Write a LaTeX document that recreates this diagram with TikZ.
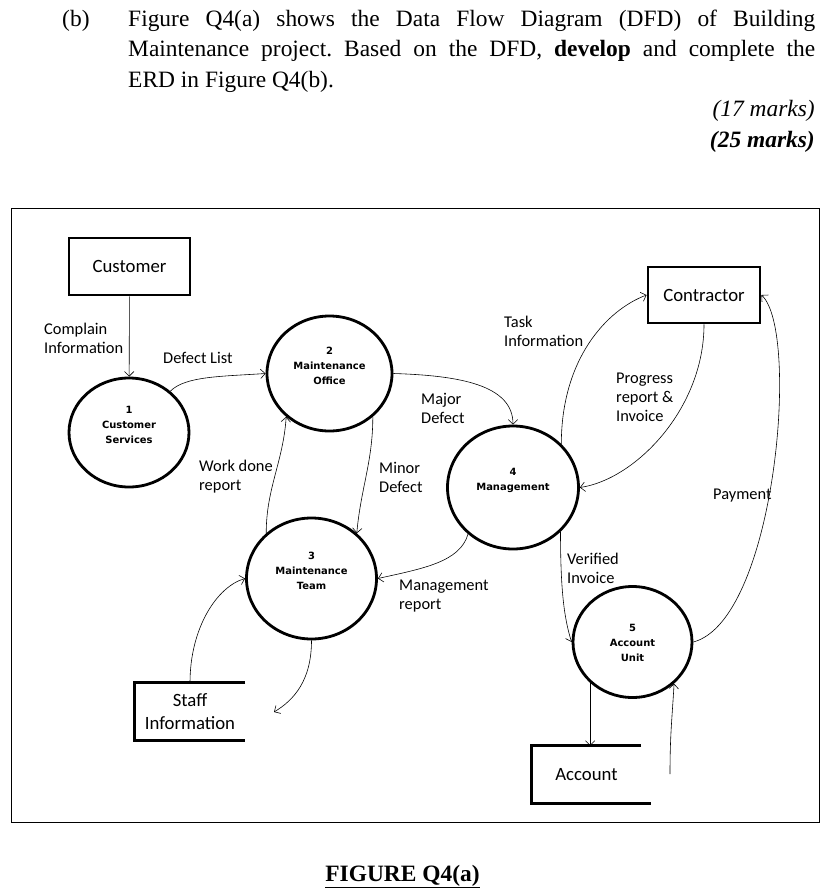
\documentclass[tikz,border=0pt]{standalone}
\usepackage{fontspec}
\setmainfont{Liberation Serif}
\newfontfamily\dfdfont{Carlito}
\newfontfamily\procfont{DejaVu Sans}
\usetikzlibrary{arrows.meta,shapes.geometric,calc}
\frenchspacing

\begin{document}
\begin{tikzpicture}[
  x=0.03cm, y=-0.03cm,
  body/.style={anchor=base west, inner sep=0pt, font=\fontsize{20}{26}\selectfont},
  entity/.style={draw, line width=2.4pt, inner sep=0pt, font=\dfdfont\fontsize{16}{19}\selectfont},
  proc/.style={draw, ellipse, line width=2.4pt, inner sep=0pt},
  proctext/.style={align=center, inner sep=0pt, font=\procfont\bfseries\fontsize{8.5}{12.8}\selectfont},
  storetext/.style={inner sep=0pt, align=center, minimum height=1.71cm, font=\dfdfont\fontsize{16}{19}\selectfont},
  store/.style={line width=2.4pt},
  lbl/.style={anchor=west, align=left, inner sep=0pt, font=\dfdfont\fontsize{14}{16.2}\selectfont},
  flow/.style={-{Straight Barb[length=4pt,width=8pt]}, line width=0.5pt}
]
\useasboundingbox (0,0) rectangle (837,893);

\node[body] (part) at (62,26) {(b)};
\node[body] (q1) at (128,26) {\makebox[20.61cm][s]{Figure Q4(a) shows the Data Flow Diagram (DFD) of Building}};
\node[body] (q2) at (128,56.5) {\makebox[20.61cm][s]{Maintenance project. Based on the DFD, \textbf{develop} and complete the}};
\node[body] (q3) at (128,87) {ERD in Figure Q4(b).};
\node[body, anchor=base east] (m17) at (815,116) {\textit{(17 marks)}};
\node[body, anchor=base east] (m25) at (815,147) {\textbf{\textit{(25 marks)}}};

\draw[line width=0.6pt] (11,208) rectangle (819,822);

\node[entity, minimum width=3.63cm, minimum height=1.71cm] (cust) at (129.5,266.5) {Customer};
\node[entity, minimum width=3.36cm, minimum height=1.68cm] (cont) at (704,295) {Contractor};

\node[proc, minimum width=3.6cm, minimum height=3.27cm] (p1) at (129,432.5) {};
\node[proc, minimum width=3.75cm, minimum height=3.45cm] (p2) at (329.5,373.5) {};
\node[proc, minimum width=3.9cm, minimum height=3.63cm] (p3) at (311.5,578.5) {};
\node[proc, minimum width=3.93cm, minimum height=3.69cm] (p4) at (513,487.5) {};
\node[proc, minimum width=3.57cm, minimum height=3.33cm] (p5) at (632.5,642) {};
\node[proctext] (p1t) at (129,425) {1\\Customer\\Services};
\node[proctext] (p2t) at (329.5,366) {2\\Maintenance\\Office};
\node[proctext] (p3t) at (311.5,571) {3\\Maintenance\\Team};
\node[proctext] (p4t) at (513,480) {4\\Management};
\node[proctext] (p5t) at (632.5,643) {5\\Account\\Unit};

\node[storetext, minimum width=3.3cm] (staff) at (190,711.5) {Staff\\Information};
\draw[store] (staff.north east) -- (staff.north west) -- (staff.south west) -- (staff.south east);
\node[storetext, minimum width=3.27cm] (acct) at (586.5,774.5) {Account};
\draw[store] (acct.north east) -- (acct.north west) -- (acct.south west) -- ($(acct.south east)+(10,0)$);
\coordinate (acctout) at (670,774);
\coordinate (staffin) at (274,712);

\node[lbl] (lcomplain) at (44,338) {Complain\\Information};
\node[lbl] (ldefect) at (163,358) {Defect List};
\node[lbl] (lmajor) at (421,408) {Major\\Defect};
\node[lbl] (lminor) at (379,477) {Minor\\Defect};
\node[lbl] (lwork) at (199,477) {Work done\\report};
\node[lbl] (lmgmt) at (399,596) {Management\\report};
\node[lbl] (ltask) at (504,331) {Task\\Information};
\node[lbl] (lprog) at (616,397) {Progress\\report \&\\Invoice};
\node[lbl] (lpay) at (713,496) {Payment};
\node[lbl] (lverif) at (567,568) {Verified\\Invoice};

\draw[flow] (cust) -- (p1);
\draw[flow] (p1.45) .. controls +(15,-15) and +(-45,3) .. (p2.west);
\draw[flow] (p2.east) .. controls +(65,2) and +(0,-40) .. (p4.north);
\draw[flow] (p2.-45) .. controls +(0,45) and +(4,-45) .. (p3.45);
\draw[flow] (p3.135) .. controls +(0,-45) and +(-3,45) .. (p2.225);
\draw[flow] (p4.226) .. controls +(-8,28) and +(45,-10) .. (p3.east);
\draw[flow] (p4.42) .. controls +(0,-85) and +(-40,15) .. (cont.west);
\draw[flow] (cont.south) .. controls +(0,85) and +(55,-8) .. (p4.east);
\draw[flow] (p5.east) .. controls +(82,-22) and +(39,36) .. (cont.east);
\draw[flow] (p4.-43) .. controls +(0,55) and +(-8,-25) .. (p5.west);
\draw[flow] (p5.224) -- (p5.224 |- acct.north);
\draw[flow] (acctout) .. controls +(0,-40) and +(-2,35) .. (p5.-45);
\draw[flow] (staff.north) .. controls +(0,-55) and +(-28,8) .. (p3.west);
\draw[flow] (p3.south) .. controls +(0,40) and +(20,-12) .. (staffin);

\node[body, anchor=base, font=\bfseries\fontsize{20}{26}\selectfont] (cap) at (402.5,881) {\underline{FIGURE Q4(a)}};
\end{tikzpicture}
\end{document}
